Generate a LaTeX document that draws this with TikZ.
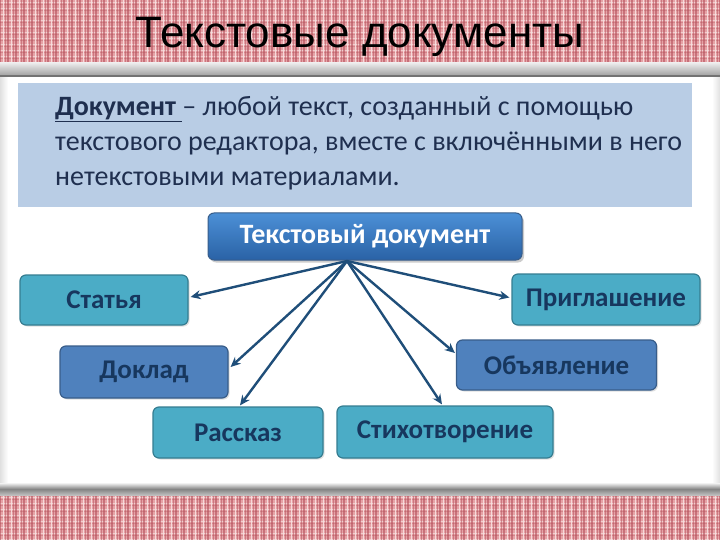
\documentclass[tikz,border=0pt]{standalone}
\usepackage{fontspec}
\setmainfont{Carlito}
\newfontfamily\titlefont{Liberation Sans}
\usetikzlibrary{arrows.meta,shadows,calc}
\definecolor{plaidbase}{HTML}{E6A2A6}
\definecolor{plaiddark}{HTML}{B4505B}
\definecolor{plaidlight}{HTML}{F8E0E0}
\definecolor{infobox}{HTML}{B9CDE5}
\definecolor{tealbox}{HTML}{4BACC6}
\definecolor{tealedge}{HTML}{357D91}
\definecolor{bluebox}{HTML}{4F81BD}
\definecolor{blueedge}{HTML}{385D8A}
\definecolor{hubtop}{HTML}{4C90D6}
\definecolor{hubbottom}{HTML}{2A62A6}
\definecolor{navytext}{HTML}{17375E}
\definecolor{arrowcol}{HTML}{1F4E79}
\definecolor{textcol}{HTML}{1F2F4F}
\tikzset{
  leaf/.style={draw=tealedge, fill=tealbox, line width=1.2pt, rounded corners=6pt,
    font=\fontsize{27}{29}\selectfont\bfseries, text=navytext, inner sep=0pt,
    drop shadow={opacity=0.25, shadow xshift=1.5pt, shadow yshift=-1.5pt}},
  leafblue/.style={leaf, draw=blueedge, fill=bluebox},
  hubnode/.style={draw=blueedge, top color=hubtop, bottom color=hubbottom, line width=1pt,
    rounded corners=6pt, font=\fontsize{28}{30}\selectfont\bfseries, text=white, inner sep=0pt,
    minimum width=314pt, minimum height=47pt,
    drop shadow={opacity=0.4, shadow xshift=2pt, shadow yshift=-2.5pt}},
  link/.style={draw=arrowcol, line width=2.4pt, -{Stealth[length=10pt,width=9pt]}}
}
\begin{document}
\begin{tikzpicture}[x=1pt,y=-1pt]
\useasboundingbox (0,0) rectangle (720,540);
% white page
\fill[white] (0,0) rectangle (720,540);
\fill[left color=black!12, right color=white] (0,77) rectangle (8,483);
\fill[right color=black!12, left color=white] (712,77) rectangle (720,483);
% plaid bands
\foreach \ya/\yb in {0/63, 495/540}{
  \fill[plaidbase] (0,\ya) rectangle (720,\yb);
  \foreach \yy in {0,6,...,60}{
    \draw[plaidlight, line width=0.8pt, opacity=0.7] (0,\ya+\yy+2) -- (720,\ya+\yy+2);
    \draw[plaiddark, line width=0.6pt, opacity=0.35] (0,\ya+\yy+4.5) -- (720,\ya+\yy+4.5);
  }
  \foreach \x in {0,8,...,720}{
    \draw[plaiddark, line width=1.1pt, opacity=0.6] (\x,\ya) -- (\x,\yb);
    \draw[plaidlight, line width=0.8pt, opacity=0.9] (\x+3,\ya) -- (\x+3,\yb);
    \draw[plaiddark, line width=0.5pt, opacity=0.5] (\x+5.5,\ya) -- (\x+5.5,\yb);
  }
}
% silver bars
\shade[top color=black!8, bottom color=black!40] (0,63) rectangle (720,77);
\fill[black!55] (0,75) rectangle (720,77);
\shade[top color=black!5, bottom color=black!55] (0,483) rectangle (720,490);
\shade[top color=black!45, bottom color=black!25] (0,490) rectangle (720,495);
% title
\node[font=\titlefont\fontsize{44}{46}\selectfont, text=black] (title) at (360,37) {Текстовые документы};
% info box
\fill[infobox] (18,83) rectangle (692,207);
\node[anchor=north west, align=left, text=textcol, inner sep=0pt,
  font=\fontsize{28}{35}\selectfont] (info) at (55,96)
  {\underline{\textbf{Документ}\ }– любой текст, созданный с помощью\\
   текстового редактора, вместе с включёнными в него\\
   нетекстовыми материалами.};
% nodes
\node[hubnode] (td) at (365,236.5) {Текстовый документ};
\node[leaf, minimum width=168pt, minimum height=50pt] (st) at (104,300) {Статья};
\node[leaf, minimum width=188pt, minimum height=51pt] (pr) at (606,299.5) {Приглашение};
\node[leafblue, minimum width=168pt, minimum height=52pt] (dk) at (144,372) {Доклад};
\node[leafblue, minimum width=200pt, minimum height=50pt] (ob) at (556.5,365) {Объявление};
\node[leaf, minimum width=170pt, minimum height=51pt] (rs) at (238,432.5) {Рассказ};
\node[leaf, minimum width=216pt, minimum height=52pt] (sx) at (445,432) {Стихотворение};
% connectors
\coordinate (hub) at (347,261);
\draw[link] (hub) -- ($(st.east)+(2,-3)$);
\draw[link] (hub) -- ($(pr.west)+(-2,-2)$);
\draw[link] (hub) -- ($(dk.east)+(2,-5)$);
\draw[link] (hub) -- ($(ob.west)+(-1,-12)$);
\draw[link] (hub) -- ($(rs.north)+(2,-1)$);
\draw[link] (hub) -- ($(sx.north)+(-3,-1)$);
\end{tikzpicture}
\end{document}
